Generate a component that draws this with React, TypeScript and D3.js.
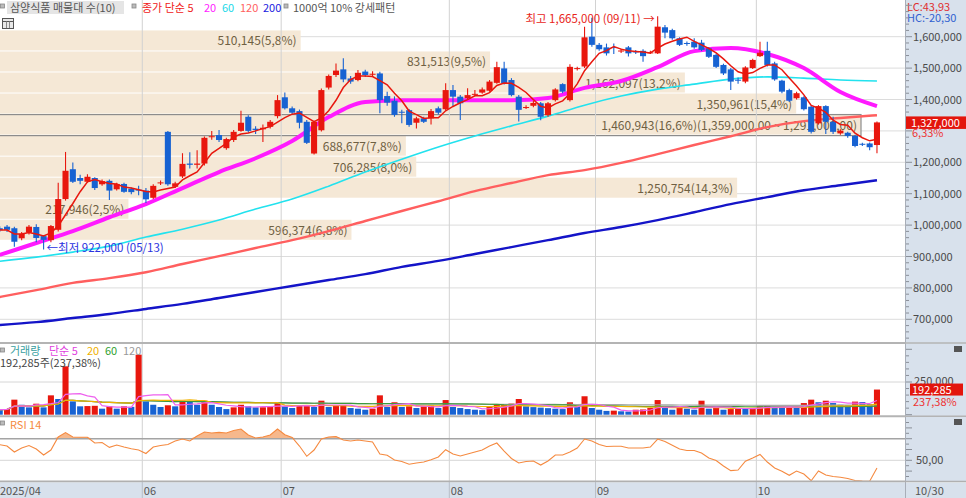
import * as d3 from 'd3'

// trading days shown (2025)
const tradingDays = [
  '04/30',
  '05/02', '05/07', '05/08', '05/09', '05/12', '05/13', '05/14', '05/15', '05/16', '05/19',
  '05/20', '05/21', '05/22', '05/23', '05/26', '05/27', '05/28', '05/29', '05/30',
  '06/02', '06/04', '06/05', '06/09', '06/10', '06/11', '06/12', '06/13', '06/16', '06/17',
  '06/18', '06/19', '06/20', '06/23', '06/24', '06/25', '06/26', '06/27', '06/30',
  '07/01', '07/02', '07/03', '07/04', '07/07', '07/08', '07/09', '07/10', '07/11', '07/14',
  '07/15', '07/16', '07/17', '07/18', '07/21', '07/22', '07/23', '07/24', '07/25', '07/28',
  '07/29', '07/30', '07/31',
  '08/01', '08/04', '08/05', '08/06', '08/07', '08/08', '08/11', '08/12', '08/13', '08/14',
  '08/18', '08/19', '08/20', '08/21', '08/22', '08/25', '08/26', '08/27', '08/28', '08/29',
  '09/01', '09/02', '09/03', '09/04', '09/05', '09/08', '09/09', '09/10', '09/11', '09/12',
  '09/15', '09/16', '09/17', '09/18', '09/19', '09/22', '09/23', '09/24', '09/25', '09/26',
  '09/29', '09/30',
  '10/01', '10/02', '10/10', '10/13', '10/14', '10/15', '10/16', '10/17', '10/20', '10/21',
  '10/22', '10/23', '10/24', '10/27', '10/28', '10/29', '10/30',
]

// prices in thousand won
const opens = [
  990, 995, 990, 958, 976, 994, 965, 952, 985, 1083, 1178, 1150, 1138, 1150, 1130, 1141, 1114, 1131, 1116, 1113,
  1110, 1087, 1133, 1297, 1122, 1155, 1196, 1192, 1196, 1280, 1287, 1245, 1271, 1300, 1345, 1307, 1305, 1313, 1347, 1407,
  1372, 1363, 1329, 1228, 1302, 1438, 1478, 1496, 1467, 1462, 1489, 1480, 1483, 1411, 1396, 1361, 1366, 1326, 1340, 1340,
  1372, 1369, 1430, 1409, 1404, 1416, 1422, 1428, 1453, 1499, 1462, 1409, 1374, 1380, 1388, 1350, 1398, 1449, 1398, 1497,
  1505, 1600, 1574, 1566, 1567, 1554, 1566, 1553, 1555, 1548, 1547, 1630, 1621, 1595, 1580, 1584, 1581, 1563, 1542, 1510,
  1496, 1463, 1457, 1500, 1538, 1555, 1515, 1460, 1430, 1404, 1407, 1377, 1324, 1379, 1329, 1292, 1294, 1284, 1259, 1260,
  1255,
]
const highs = [
  996, 1000, 995, 978, 1000, 1003, 968, 1000, 1135, 1233, 1199, 1160, 1162, 1152, 1145, 1145, 1135, 1135, 1120, 1125,
  1118, 1130, 1142, 1300, 1138, 1229, 1232, 1238, 1282, 1300, 1303, 1278, 1303, 1364, 1350, 1315, 1320, 1335, 1414, 1422,
  1378, 1368, 1335, 1332, 1435, 1480, 1515, 1531, 1475, 1494, 1495, 1490, 1488, 1425, 1410, 1367, 1370, 1345, 1345, 1370,
  1378, 1452, 1446, 1414, 1436, 1430, 1438, 1462, 1520, 1520, 1468, 1414, 1382, 1395, 1392, 1392, 1436, 1452, 1512, 1504,
  1632, 1660, 1580, 1578, 1578, 1562, 1570, 1558, 1560, 1555, 1665, 1637, 1625, 1598, 1585, 1595, 1590, 1567, 1546, 1514,
  1500, 1470, 1506, 1530, 1584, 1584, 1520, 1463, 1434, 1425, 1410, 1380, 1382, 1382, 1345, 1305, 1297, 1288, 1262, 1263,
  1330,
]
const lows = [
  978, 978, 931, 952, 970, 945, 922, 945, 980, 1078, 1134, 1130, 1135, 1112, 1125, 1080, 1110, 1103, 1098, 1095,
  1070, 1083, 1128, 1125, 1118, 1150, 1180, 1180, 1190, 1272, 1265, 1240, 1265, 1297, 1295, 1290, 1265, 1308, 1340, 1368,
  1352, 1308, 1258, 1225, 1298, 1432, 1472, 1455, 1450, 1458, 1472, 1475, 1356, 1380, 1345, 1324, 1313, 1308, 1325, 1320,
  1352, 1365, 1377, 1335, 1400, 1410, 1418, 1425, 1450, 1448, 1410, 1330, 1370, 1375, 1334, 1345, 1394, 1420, 1394, 1492,
  1500, 1568, 1555, 1540, 1545, 1548, 1537, 1545, 1520, 1545, 1545, 1595, 1590, 1570, 1571, 1562, 1554, 1532, 1500, 1478,
  1430, 1450, 1452, 1497, 1535, 1505, 1460, 1420, 1392, 1400, 1365, 1292, 1320, 1290, 1290, 1288, 1278, 1248, 1252, 1238,
  1229,
]
const closes = [
  984, 985, 947, 972, 995, 959, 953, 997, 1083, 1173, 1138, 1141, 1154, 1118, 1140, 1110, 1131, 1106, 1105, 1110,
  1082, 1125, 1136, 1130, 1133, 1195, 1192, 1196, 1278, 1283, 1271, 1274, 1297, 1326, 1300, 1303, 1310, 1329, 1398, 1372,
  1358, 1326, 1262, 1329, 1430, 1475, 1492, 1464, 1457, 1485, 1478, 1482, 1398, 1390, 1351, 1358, 1319, 1340, 1329, 1363,
  1358, 1430, 1409, 1388, 1414, 1418, 1432, 1457, 1503, 1452, 1414, 1367, 1376, 1389, 1345, 1388, 1432, 1425, 1504, 1500,
  1598, 1574, 1560, 1547, 1565, 1556, 1547, 1551, 1538, 1550, 1632, 1613, 1595, 1574, 1578, 1566, 1558, 1536, 1504, 1483,
  1457, 1461, 1502, 1526, 1549, 1510, 1464, 1425, 1396, 1420, 1369, 1297, 1379, 1329, 1297, 1301, 1284, 1252, 1257, 1248,
  1327,
]

// shares
const volumes = [
  38000, 43000, 115000, 76000, 56000, 84000, 56000, 148000, 120000, 370000,
  102000, 64000, 66000, 68000, 46000, 64000, 46000, 64000, 60000, 459000,
  102000, 76000, 59000, 72000, 64000, 107000, 97000, 76000, 107000, 76000,
  59000, 43000, 56000, 76000, 64000, 56000, 57000, 59000, 89000, 64000,
  51000, 72000, 74000, 59000, 107000, 59000, 72000, 74000, 51000, 46000,
  38000, 46000, 148000, 59000, 95000, 59000, 64000, 51000, 64000, 70000,
  51000, 112000, 59000, 51000, 43000, 38000, 35000, 64000, 76000, 80000,
  85000, 120000, 64000, 58000, 54000, 50000, 46000, 43000, 95000, 64000,
  141000, 51000, 38000, 29000, 31000, 26000, 24000, 38000, 40000, 51000,
  112000, 51000, 38000, 56000, 46000, 38000, 107000, 46000, 59000, 38000,
  43000, 51000, 46000, 51000, 64000, 66000, 56000, 55000, 57000, 55000,
  89000, 115000, 95000, 107000, 89000, 76000, 74000, 100000, 97000, 81003,
  192285,
]

const rsi14 = [
  64.4, 63.2, 57.7, 61.4, 63.7, 60.5, 54.9, 59.5, 71.6, 75.7, 71.6, 71.3, 71.3, 66.0, 66.5, 62.0, 64.2, 62.3, 60.7, 59.5,
  56.3, 62.3, 63.7, 64.6, 67.9, 69.7, 67.9, 72.5, 76.2, 75.3, 75.9, 75.3, 77.6, 79.0, 73.4, 70.6, 71.6, 73.4, 79.0, 73.7,
  71.1, 63.2, 53.7, 59.5, 69.7, 71.6, 72.0, 68.8, 67.9, 68.8, 67.9, 66.9, 55.8, 54.6, 50.3, 48.9, 46.3, 47.5, 48.4, 50.6,
  53.1, 59.8, 55.8, 54.0, 55.8, 57.7, 59.5, 63.2, 66.0, 58.6, 51.7, 47.5, 48.9, 49.4, 45.6, 49.4, 54.9, 54.9, 57.7, 61.4,
  69.7, 67.9, 64.6, 62.8, 63.0, 63.0, 61.4, 61.4, 61.4, 62.3, 69.7, 67.4, 63.9, 60.5, 59.1, 59.1, 56.8, 52.1, 49.8, 44.7,
  40.4, 41.0, 49.1, 52.1, 55.4, 48.4, 42.9, 39.8, 36.1, 40.1, 37.3, 31.1, 40.1, 36.4, 35.0, 34.3, 33.1, 31.3, 30.8, 30.6,
  42.9,
]

// longer moving averages read every 5th trading day (thousand won)
const maSampleStep = 5
const ma20 = [905, 943, 981, 1025, 1067, 1118, 1169, 1213, 1268, 1344, 1392, 1398, 1398, 1398, 1398, 1405, 1437, 1459, 1503, 1554, 1564, 1545, 1500, 1424, 1379]
const ma60 = [885, 898, 914, 933, 962, 987, 1016, 1051, 1083, 1124, 1169, 1210, 1249, 1284, 1316, 1347, 1382, 1411, 1433, 1449, 1465, 1472, 1468, 1462, 1459]
const ma120 = [771, 793, 816, 831, 850, 876, 901, 927, 952, 981, 1013, 1045, 1076, 1108, 1134, 1159, 1175, 1198, 1226, 1255, 1283, 1312, 1331, 1341, 1350]
const ma200 = [682, 691, 704, 717, 733, 749, 768, 787, 806, 825, 844, 867, 886, 908, 930, 952, 975, 994, 1016, 1041, 1067, 1089, 1111, 1127, 1143]

// volume profile (매물대), bottom band first
const bandVolumes = [596374, 217946, 1250754, 706285, 688677, 1460943, 1350961, 1162097, 831513, 510145]
const bandBottom = 950
const bandStep = 67
const maxBandRange = '(1,359,000,00 ~ 1,291,000,00)'

const priceTicks = [700, 800, 900, 1000, 1100, 1200, 1300, 1400, 1500, 1600]

const FONT = "'Noto Sans CJK KR', 'Noto Sans', sans-serif"
const RED = '#e8170e'
const BLUE = '#1762d2'
const TAN = '#f5e8d6'
const AXIS_BG = '#d8e1ec'

function movingAverage(values: number[], n: number) {
  return values.map((_, i) => d3.mean(values.slice(Math.max(0, i - n + 1), i + 1)) as number)
}

export default function App() {
  const plotR = 905
  const n = tradingDays.length
  const x = d3.scaleBand<string>().domain(tradingDays).range([-3.3, 880]).paddingInner(0.17)
  const bw = x.bandwidth()
  const cx = (i: number) => (x(tradingDays[i]) as number) + bw / 2
  const y = d3.scaleLinear().domain([700, 1600]).range([319.3, 36.7])
  const yv = d3.scaleLinear().domain([0, 250000]).range([414.7, 382])
  const yr = d3.scaleLinear().domain([50, 70]).range([460.3, 438.7])

  const fmt = d3.format(',')
  const won = (v: number) => fmt(v * 1000)

  const sampleLine = d3
    .line<number>()
    .x((_, k) => cx(k * maSampleStep))
    .y((v) => y(v))
    .curve(d3.curveMonotoneX)
  const seriesLine = d3
    .line<number>()
    .x((_, i) => cx(i))
    .y((v) => y(v))
  const volLine = d3
    .line<number>()
    .x((_, i) => cx(i))
    .y((v) => yv(v))
  const rsiLine = d3
    .line<number>()
    .x((_, i) => cx(i))
    .y((v) => yr(v))
  const rsiArea = d3
    .area<number>()
    .x((_, i) => cx(i))
    .y0(yr(70))
    .y1((v) => yr(Math.max(v, 70)))

  const ma5 = movingAverage(closes, 5)

  // volume profile geometry
  const bandTotal = d3.sum(bandVolumes)
  const bandMax = d3.max(bandVolumes) as number
  const bandW = d3.scaleLinear().domain([0, bandMax]).range([0, 861])
  const maxBand = bandVolumes.indexOf(bandMax)

  // month boundaries
  const monthStarts = tradingDays
    .map((d, i) => ({ d, i }))
    .filter(({ d, i }) => i > 2 && d.slice(0, 2) !== tradingDays[i - 1].slice(0, 2))
  const gridX = (i: number) => (x(tradingDays[i]) as number) - (x.step() - bw) / 2

  const hiIdx = d3.maxIndex(highs)
  const loIdx = d3.minIndex(lows)
  const last = n - 1
  const lastY = y(closes[last])
  const lastChange = ((closes[last] / closes[last - 1] - 1) * 100).toFixed(2).replace('.', ',')
  const volRatio = ((volumes[last] / volumes[last - 1]) * 100).toFixed(2).replace('.', ',')

  const volMAs: [number, string][] = [
    [120, '#a8a8a8'],
    [60, '#3d9a3d'],
    [20, '#f2b200'],
    [5, '#ee62ee'],
  ]

  const minorPrice = d3.range(640, 1701, 20)
  const minorVol = d3.range(0, 500001, 50000)
  const minorRsi = d3.range(30, 91, 5)

  return (
    <svg
      width={966}
      height={498}
      style={{ position: 'fixed', left: 0, top: 0, background: '#fff' }}
      fontFamily={FONT}
    >
      {/* price gridlines */}
      {priceTicks.map((t) => (
        <line key={t} x1={0} x2={plotR} y1={y(t)} y2={y(t)} stroke="#dcdcdc" />
      ))}

      {/* volume profile bands */}
      {bandVolumes.map((v, k) => {
        const top = y(bandBottom + bandStep * (k + 1))
        const bot = y(bandBottom + bandStep * k)
        const w = bandW(v)
        const pct = ((v / bandTotal) * 100).toFixed(1).replace('.', ',')
        const label = `${fmt(v)}(${pct}%)` + (k === maxBand ? maxBandRange : '')
        return (
          <g key={k}>
            <rect x={0} y={top} width={w} height={bot - top - 1} fill={TAN} />
            {k === maxBand && (
              <rect x={-1} y={top} width={w + 1} height={bot - top} fill="none" stroke="#8c8c8c" strokeWidth={1.2} />
            )}
            <text x={w - 4} y={(top + bot) / 2 + 4.5} textAnchor="end" fontSize={12} fill="#6f6042">
              {label}
            </text>
          </g>
        )
      })}

      {/* month gridlines */}
      {monthStarts.map(({ i }) => (
        <line key={i} x1={gridX(i)} x2={gridX(i)} y1={0} y2={498} stroke="#d2d2d2" />
      ))}

      {/* moving averages */}
      <path d={sampleLine(ma200) ?? ''} fill="none" stroke="#1414c8" strokeWidth={2.4} />
      <path d={sampleLine(ma120) ?? ''} fill="none" stroke="#ff5f5f" strokeWidth={2.4} />
      <path d={sampleLine(ma60) ?? ''} fill="none" stroke="#22e2ee" strokeWidth={1.6} />
      <path d={sampleLine(ma20) ?? ''} fill="none" stroke="#ff1aff" strokeWidth={4} />

      {/* candles */}
      {tradingDays.map((d, i) => {
        const up = closes[i] >= opens[i]
        const c = up ? RED : BLUE
        const top = y(Math.max(opens[i], closes[i]))
        const h = Math.max(1, Math.abs(y(opens[i]) - y(closes[i])))
        return (
          <g key={d}>
            <line x1={cx(i)} x2={cx(i)} y1={y(highs[i])} y2={y(lows[i])} stroke={c} strokeWidth={1.1} />
            <rect x={x(d)} y={top} width={bw} height={h} fill={c} />
          </g>
        )
      })}
      <path d={seriesLine(ma5) ?? ''} fill="none" stroke={RED} strokeWidth={1.5} />

      {/* high / low annotations */}
      <text x={cx(hiIdx) - 3} y={y(highs[hiIdx]) + 7} textAnchor="end" fontSize={11.5} fill="#e8251a">
        {`최고 ${won(highs[hiIdx])} (${tradingDays[hiIdx]}) →`}
      </text>
      <text x={cx(loIdx) + 3} y={y(lows[loIdx]) + 2} fontSize={11.5} fill="#2a32e0">
        {`←최저 ${won(lows[loIdx])} (${tradingDays[loIdx]})`}
      </text>

      {/* top legend */}
      <rect x={0.5} y={4} width={4} height={4} fill="#bbb" stroke="#888" strokeWidth={0.8} />
      <rect x={7} y={1} width={117} height={13} fill="#e5e5e5" />
      <text x={10} y={11.5} fontSize={11} fill="#555">삼양식품 매물대 수(10)</text>
      <rect x={132} y={4} width={4} height={4} fill="#bbb" stroke="#888" strokeWidth={0.8} />
      <text x={142} y={11.5} fontSize={11} fill="#f02020">종가 단순 5</text>
      <text x={204} y={11.5} fontSize={11} fill="#ff22ff">20</text>
      <text x={222} y={11.5} fontSize={11} fill="#20d8e8">60</text>
      <text x={240} y={11.5} fontSize={11} fill="#ff6060">120</text>
      <text x={263} y={11.5} fontSize={11} fill="#2020e0">200</text>
      <rect x={284} y={4} width={4} height={4} fill="#bbb" stroke="#888" strokeWidth={0.8} />
      <text x={293} y={11.5} fontSize={11} fill="#555">1000억 10% 강세패턴</text>
      <rect x={2.5} y={18.5} width={11} height={10} fill="#e8e8e8" stroke="#555" />
      <line x1={3} x2={13} y1={21.5} y2={21.5} stroke="#555" />
      <line x1={6.5} x2={6.5} y1={21.5} y2={28} stroke="#888" />
      <line x1={9.5} x2={9.5} y1={21.5} y2={28} stroke="#888" />

      {/* volume panel */}
      <line x1={0} x2={plotR} y1={yv(250000)} y2={yv(250000)} stroke="#d6d6d6" />
      {tradingDays.map((d, i) => {
        const up = i > 0 && volumes[i] >= volumes[i - 1]
        return (
          <rect
            key={d}
            x={x(d)}
            y={yv(volumes[i])}
            width={bw}
            height={yv(0) - yv(volumes[i])}
            fill={up ? RED : BLUE}
          />
        )
      })}
      {volMAs.map(([p, c]) => (
        <path key={p} d={volLine(movingAverage(volumes, p)) ?? ''} fill="none" stroke={c} strokeWidth={1.2} />
      ))}
      <rect x={0.5} y={348} width={4} height={4} fill="#bbb" stroke="#888" strokeWidth={0.8} />
      <text x={10} y={355} fontSize={11} fill="#3aa0a0">거래량</text>
      <text x={49} y={355} fontSize={11} fill="#e040e0">단순 5</text>
      <text x={87} y={355} fontSize={11} fill="#f0b000">20</text>
      <text x={105} y={355} fontSize={11} fill="#30a030">60</text>
      <text x={123} y={355} fontSize={11} fill="#999">120</text>
      <text x={0} y={367} fontSize={11} fill="#444">{`${fmt(volumes[last])}주(${volRatio}%)`}</text>

      {/* RSI panel */}
      <line x1={0} x2={plotR} y1={yr(50)} y2={yr(50)} stroke="#d6d6d6" />
      <path d={rsiArea(rsi14) ?? ''} fill="#f6b88c" stroke="none" />
      <line x1={0} x2={plotR} y1={yr(70)} y2={yr(70)} stroke="#a4a4a4" strokeWidth={1.5} />
      <path d={rsiLine(rsi14) ?? ''} fill="none" stroke="#f58a40" strokeWidth={1.1} />
      <rect x={0.5} y={421} width={4} height={4} fill="#bbb" stroke="#888" strokeWidth={0.8} />
      <text x={10} y={429} fontSize={11} fill="#f58a40">RSI 14</text>

      {/* panel separators */}
      <line x1={0} x2={plotR} y1={343} y2={343} stroke="#b4b4b4" strokeWidth={2} />
      <line x1={0} x2={plotR} y1={416.3} y2={416.3} stroke="#b4b4b4" strokeWidth={2} />
      <line x1={0} x2={plotR} y1={481.5} y2={481.5} stroke="#b0b0b0" strokeWidth={2} />

      {/* x axis */}
      <rect x={0} y={482.5} width={966} height={16} fill={AXIS_BG} />
      {monthStarts.map(({ d, i }) => (
        <g key={d}>
          <line x1={gridX(i)} x2={gridX(i)} y1={482} y2={498} stroke="#b8bec8" />
          <text x={gridX(i) + 1.5} y={495} fontSize={11} fill="#555">
            {d.slice(0, 2)}
          </text>
        </g>
      ))}
      <text x={0} y={495} fontSize={11} fill="#555">{`2025/${tradingDays[0].slice(0, 2)}`}</text>

      {/* right axis panel */}
      <rect x={plotR} y={0} width={966 - plotR} height={482} fill={AXIS_BG} />
      <line x1={plotR + 0.5} x2={plotR + 0.5} y1={0} y2={498} stroke="#a8aeb8" />
      <line x1={plotR} x2={966} y1={343} y2={343} stroke="#b4b4b4" strokeWidth={1.5} />
      <line x1={plotR} x2={966} y1={416.3} y2={416.3} stroke="#b4b4b4" strokeWidth={1.5} />
      <line x1={plotR} x2={966} y1={481.5} y2={481.5} stroke="#b0b0b0" strokeWidth={1.5} />
      <text x={907} y={11} fontSize={11} fill="#e03030">LC:43,93</text>
      <text x={907} y={22} fontSize={11} fill="#3060d0">HC:-20,30</text>
      {minorPrice.map((t) => (
        <line
          key={t}
          x1={906}
          x2={t % 100 === 0 ? 912 : 909}
          y1={y(t)}
          y2={y(t)}
          stroke="#8a8f98"
        />
      ))}
      {priceTicks
        .filter((t) => Math.abs(y(t) - lastY) > 14)
        .map((t) => (
          <text key={t} x={913} y={y(t) + 4} fontSize={11} fill="#4a4a4a">
            {won(t)}
          </text>
        ))}
      <rect x={906} y={lastY - 6} width={60} height={12.5} fill="#e3150c" />
      <text x={911} y={lastY + 4.3} fontSize={11} fill="#fff">
        {won(closes[last])}
      </text>
      <text x={912} y={lastY + 15} fontSize={11} fill="#e33">{`${lastChange}%`}</text>

      {minorVol
        .filter((t) => yv(t) > 345)
        .map((t) => (
          <line key={t} x1={906} x2={t % 250000 === 0 ? 912 : 909} y1={yv(t)} y2={yv(t)} stroke="#8a8f98" />
        ))}
      <text x={914} y={yv(250000) + 3} fontSize={11} fill="#4a4a4a">
        {fmt(250000)}
      </text>
      <rect x={910} y={yv(volumes[last]) - 6} width={53} height={12} fill="#e3150c" />
      <text x={912} y={yv(volumes[last]) + 4.3} fontSize={11} fill="#fff">
        {fmt(volumes[last])}
      </text>
      <text x={913} y={yv(volumes[last]) + 16} fontSize={11} fill="#e33">{`${volRatio}%`}</text>
      <rect x={954} y={346} width={8} height={6} fill="#555" />
      <rect x={954} y={419} width={8} height={6} fill="#555" />

      {minorRsi
        .filter((t) => yr(t) > 419 && yr(t) < 481)
        .map((t) => (
          <line key={t} x1={906} x2={t % 10 === 0 ? 912 : 909} y1={yr(t)} y2={yr(t)} stroke="#8a8f98" />
        ))}
      <text x={916} y={yr(50) + 4} fontSize={11} fill="#4a4a4a">
        50,00
      </text>
      <text x={915} y={495} fontSize={11} fill="#555">
        {tradingDays[last]}
      </text>
    </svg>
  )
}
